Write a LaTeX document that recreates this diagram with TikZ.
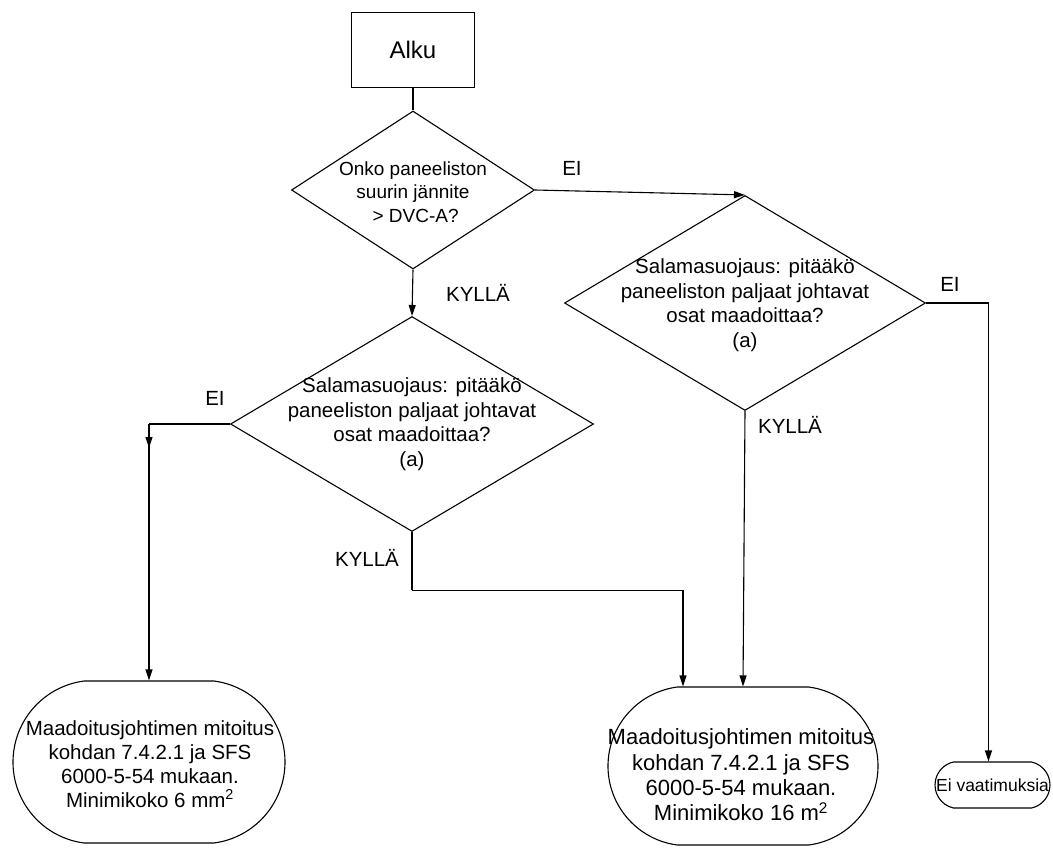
\documentclass[tikz,border=0pt]{standalone}
\usepackage{fontspec}
\setmainfont{Liberation Sans}
\usetikzlibrary{shapes.geometric,shapes.misc,arrows.meta}

\begin{document}
\begin{tikzpicture}[x=1pt,y=-1pt,line width=1.1pt,
  arr/.style={-{Triangle[length=11pt,width=7pt]}},
  dia/.style={draw,diamond,inner sep=0pt},
  term/.style={draw,rounded rectangle,inner sep=0pt},
  dtxtA/.style={align=center,font=\fontsize{19}{23.5}\selectfont},
  dtxtB/.style={align=center,font=\fontsize{20.5}{24.5}\selectfont},
  lbl/.style={font=\fontsize{20.5}{24}\selectfont,inner sep=0pt}]
\useasboundingbox (0,0) rectangle (1053,849);

% start box
\node[draw,minimum width=123pt,minimum height=75pt,inner sep=0pt,
  font=\fontsize{24}{28}\selectfont] (start) at (413,50) {Alku};

% decisions
\node[dia,minimum width=243pt,minimum height=158pt] (d1) at (413,190) {};
\node[dtxtA] (d1t) at (413,192) {Onko paneeliston\\suurin jännite\\ \ > DVC-A?};

\node[dia,minimum width=363pt,minimum height=215pt] (d2) at (412,424) {};
\node[dtxtB] (d2t) at (412,424) {Salamasuojaus: pitääkö\\paneeliston paljaat johtavat\\osat maadoittaa?\\(a)};

\node[dia,minimum width=361pt,minimum height=215pt] (d3) at (745,303) {};
\node[dtxtB] (d3t) at (745,305) {Salamasuojaus: pitääkö\\paneeliston paljaat johtavat\\osat maadoittaa?\\(a)};

% terminals
\node[term,rounded rectangle arc length=165,minimum width=272pt,minimum height=162pt] (b1) at (149,762) {};
\node[align=center,font=\fontsize{20.5}{24}\selectfont] (b1t) at (150,764)
  {Maadoitusjohtimen mitoitus\\kohdan 7.4.2.1 ja SFS\\6000-5-54 mukaan.\\Minimikoko 6 mm\textsuperscript{2}};

\node[term,rounded rectangle arc length=165,minimum width=270pt,minimum height=158pt] (b2) at (743,766) {};
\node[align=center,font=\fontsize{22}{25.3}\selectfont] (b2t) at (741,775)
  {Maadoitusjohtimen mitoitus\\kohdan 7.4.2.1 ja SFS\\6000-5-54 mukaan.\\Minimikoko 16 m\textsuperscript{2}};

\node[term,rounded rectangle arc length=155,minimum width=115pt,minimum height=46pt,
  font=\fontsize{17.5}{20}\selectfont] (b3) at (992.5,785) {Ei vaatimuksia};

% connectors
\draw (start.south) -- (d1.north);
\draw[arr] (d1.south) -- (d2.north);
\draw[arr] (d1.east) -- (d3.north);

\draw (d2.west) -- (d2.west -| b1.north) coordinate (c1);
\draw[arr] (c1) -- ++(0,24);
\draw[arr] (c1) -- (b1.north);

\draw (d2.south) -- ++(0,58) coordinate (c2);
\draw[arr] (c2) -| ([xshift=-60pt]b2.north);

\draw[arr] (d3.south) -- (b2.north);
\draw[arr] (d3.east) -| ([xshift=-4pt]b3.north);

% branch labels
\node[lbl] (l1) at (478,293) {KYLLÄ};
\node[lbl] (l2) at (572,168) {EI};
\node[lbl] (l3) at (950,284) {EI};
\node[lbl] (l4) at (790,425) {KYLLÄ};
\node[lbl] (l5) at (215,398) {EI};
\node[lbl] (l6) at (367,558) {KYLLÄ};
\end{tikzpicture}
\end{document}
